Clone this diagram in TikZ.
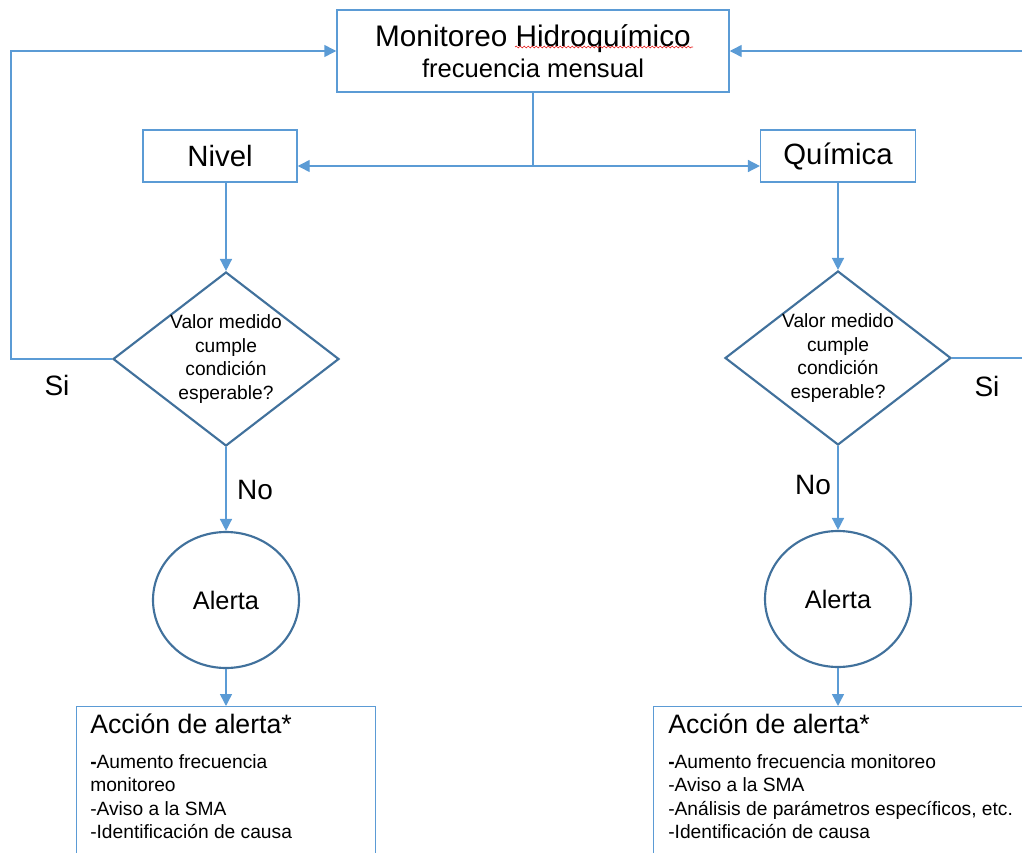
\documentclass[tikz,border=0pt]{standalone}
\usepackage{fontspec}
\setmainfont{Liberation Sans}
\usetikzlibrary{shapes.geometric,arrows.meta,decorations.pathmorphing}
\definecolor{azul}{RGB}{91,155,213}
\definecolor{azulosc}{RGB}{65,113,156}
\definecolor{rojo}{RGB}{230,40,40}
\newcommand{\tam}[2]{\fontsize{#1}{#2}\selectfont}
\begin{document}
\begin{tikzpicture}[x=0.75pt, y=-0.75pt,
	caja/.style={draw=azul, line width=1.1pt, rectangle, inner sep=0pt},
	decision/.style={draw=azulosc, line width=1.6pt, diamond, inner sep=0pt,
		minimum width=169.5pt, minimum height=130.5pt},
	alerta/.style={draw=azulosc, line width=1.6pt, ellipse, inner sep=0pt,
		minimum width=109.5pt, minimum height=102pt, font=\tam{19}{23}},
	linea/.style={draw=azul, line width=1.1pt},
	flecha/.style={linea, -{Triangle[length=9pt, width=9pt]}},
	etiq/.style={font=\tam{21}{25}},
	lista/.style={anchor=north west, inner sep=0pt, align=left, font=\tam{14.4}{17.6}}]
	\useasboundingbox (0,0) rectangle (1022,853);
	\clip (0,0) rectangle (1022,853);

	% cajas superiores
	\node[caja, minimum width=294pt, minimum height=61.5pt, align=center] (mon) at (533,51)
		{{\tam{22.3}{26}Monitoreo Hidroquímico}\\[4pt]{\tam{19.2}{23}frecuencia mensual}};
	\node[caja, minimum width=115.5pt, minimum height=39pt, font=\tam{22}{26}] (nivel) at (220,156) {Nivel};
	\node[caja, minimum width=116pt, minimum height=39pt, font=\tam{22}{26}] (quim) at (838,156) {Química};
	\draw[rojo, line width=0.5pt, decorate, decoration={snake, amplitude=0.7pt, segment length=3pt}]
		(515,47) -- (693,47);

	% decisiones
	\node[decision] (dl) at (226,359) {};
	\node[align=center, font=\tam{14.4}{17.8}] (dltxt) at (dl) {Valor medido\\cumple\\condición\\esperable?};
	\node[decision] (dr) at (838,358) {};
	\node[align=center, font=\tam{14.4}{17.8}] (drtxt) at (dr) {Valor medido\\cumple\\condición\\esperable?};

	% alertas
	\node[alerta] (al) at (226,600) {Alerta};
	\node[alerta] (ar) at (838,599) {Alerta};

	% acciones
	\node[caja, anchor=north west, minimum width=224.25pt, minimum height=150pt] (accl) at (76,706) {};
	\node[caja, anchor=north west, minimum width=290pt, minimum height=150pt] (accr) at (653,706) {};
	\node[anchor=base west, inner sep=0pt, font=\tam{20}{24}] (acclt) at (90,733) {Acción de alerta*};
	\node[anchor=base west, inner sep=0pt, font=\tam{20}{24}] (accrt) at (668,733) {Acción de alerta*};
	\node[lista] (accll) at (90,754)
		{\textbf{-}Aumento frecuencia\\monitoreo\\-Aviso a la SMA\\-Identificación de causa};
	\node[lista] (accrl) at (668,754)
		{\textbf{-}Aumento frecuencia monitoreo\\-Aviso a la SMA\\-Análisis de parámetros específicos, etc.\\-Identificación de causa};

	% etiquetas
	\node[etiq] (sil) at (57,385) {Si};
	\node[etiq] (sir) at (987,386) {Si};
	\node[etiq] (nol) at (255,490) {No};
	\node[etiq] (nor) at (813,485) {No};

	% conectores
	\coordinate (split) at (533,166);
	\coordinate (retl) at (11,359);
	\coordinate (retr) at (1040,358);
	\draw[linea] (mon) -- (split);
	\draw[flecha] (split) -- (split -| nivel.east);
	\draw[flecha] (split) -- (split -| quim.west);
	\draw[flecha] (dl.north |- nivel.south) -- (dl.north);
	\draw[flecha] (quim) -- (dr.north);
	\draw[flecha] (dl.west) -- (retl) |- (mon.west);
	\draw[flecha] (dr.east) -- (retr) |- (mon.east);
	\draw[flecha] (dl.south) -- (al.north);
	\draw[flecha] (dr.south) -- (ar.north);
	\draw[flecha] (al.south) -- (al.south |- accl.north);
	\draw[flecha] (ar.south) -- (ar.south |- accr.north);
\end{tikzpicture}
\end{document}
